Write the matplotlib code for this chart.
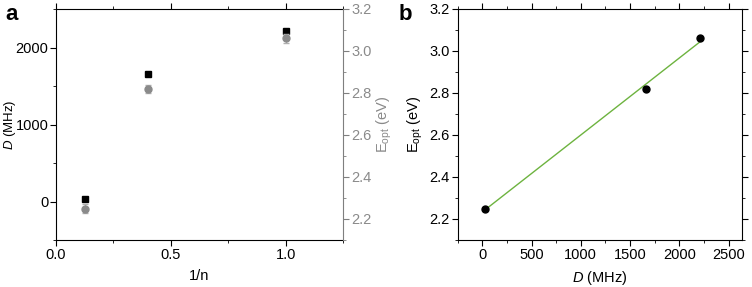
import matplotlib.pyplot as plt
import numpy as np
from matplotlib.ticker import MultipleLocator

plt.rcParams['font.family'] = ['Liberation Sans', 'DejaVu Sans']
plt.rcParams['font.size'] = 10.5
plt.rcParams['mathtext.fontset'] = 'custom'
plt.rcParams['mathtext.rm'] = 'Liberation Sans'
plt.rcParams['mathtext.it'] = 'Liberation Sans:italic'

# donnees
inv_n = [0.125, 0.4, 1.0]
D_MHz = [30, 1660, 2210]
E_opt = [2.25, 2.82, 3.06]
E_err = [0.02, 0.02, 0.02]

gris = "#8a8a8a"
gris_axe = "#7f7f7f"

fig = plt.figure(figsize=(7.52, 2.87), dpi=100)
axA = fig.add_axes([56/752, 1-240/287, 287/752, 231/287])
axB = fig.add_axes([457.7/752, 1-240/287, 284.6/752, 231/287])

##########
# panel a
##########
axA.plot(inv_n, D_MHz, 's', color="black", markersize=4.5)
axA.set_xlim(0, 1.25)
axA.set_ylim(-500, 2500)
axA.xaxis.set_major_locator(MultipleLocator(0.5))
axA.xaxis.set_minor_locator(MultipleLocator(0.25))
axA.yaxis.set_major_locator(MultipleLocator(1000))
axA.yaxis.set_minor_locator(MultipleLocator(500))
axA.set_xlabel("1/n", labelpad=5)
axA.set_ylabel("$\\it{D}$ (MHz)", fontsize=9.5)
axA.yaxis.set_label_coords(-0.133, 0.5)
axA.tick_params(which="both", direction="out", top=True, right=False, pad=1.5)
axA.tick_params(which="major", length=4)
axA.tick_params(which="minor", length=2.5)
axA.spines["right"].set_visible(False)

axA2 = axA.twinx()
axA2.errorbar(inv_n, E_opt, yerr=E_err, fmt='o', color=gris, markersize=5,
              elinewidth=0.8, capsize=2, ecolor="#b0b0b0")
axA2.set_ylim(2.1, 3.2)
axA2.yaxis.set_major_locator(MultipleLocator(0.2))
axA2.yaxis.set_minor_locator(MultipleLocator(0.1))
axA2.set_ylabel("E$_{\\mathregular{opt}}$ (eV)", color=gris)
axA2.yaxis.set_label_coords(1.111, 0.5)
axA2.tick_params(which="both", direction="out", colors=gris_axe, labelcolor=gris, pad=2)
axA2.tick_params(which="major", length=4)
axA2.tick_params(which="minor", length=2.5)
axA2.spines["right"].set_color(gris_axe)
axA2.spines["left"].set_visible(False)
axA2.spines["top"].set_visible(False)
axA2.spines["bottom"].set_visible(False)

##########
# panel b
##########
pente, ordo = np.polyfit(D_MHz, E_opt, 1)
xf = np.array([min(D_MHz), max(D_MHz)])
axB.plot(xf, pente*xf + ordo, color="#6db33f", linewidth=1)
axB.plot(D_MHz, E_opt, 'o', color="black", markersize=5)
axB.set_xlim(-250, 2640)
axB.set_ylim(2.1, 3.2)
axB.xaxis.set_major_locator(MultipleLocator(500))
axB.xaxis.set_minor_locator(MultipleLocator(250))
axB.yaxis.set_major_locator(MultipleLocator(0.2))
axB.yaxis.set_minor_locator(MultipleLocator(0.1))
axB.set_xlabel("$\\it{D}$ (MHz)", labelpad=5)
axB.set_ylabel("E$_{\\mathregular{opt}}$ (eV)")
axB.yaxis.set_label_coords(-0.115, 0.5)
axB.tick_params(which="both", direction="out", top=True, right=True, pad=2)
axB.tick_params(which="major", length=4)
axB.tick_params(which="minor", length=2.5)

for ax in (axA, axA2, axB):
    for s in ax.spines.values():
        s.set_linewidth(0.8)

fig.text(5/752, 1-20/287, "a", fontsize=16, fontweight="bold")
fig.text(399/752, 1-20/287, "b", fontsize=16, fontweight="bold")

plt.savefig("out.png", dpi=100)
